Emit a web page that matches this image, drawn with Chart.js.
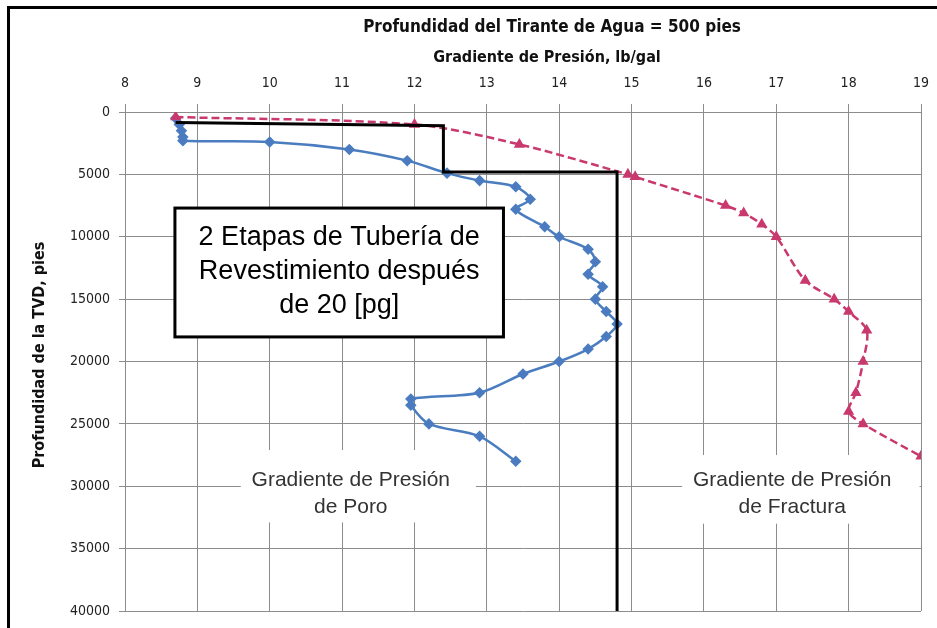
<!DOCTYPE html>
<html><head><meta charset="utf-8">
<script src="https://cdn.jsdelivr.net/npm/chart.js@4.4.1/dist/chart.umd.min.js"></script>
<style>
html,body{margin:0;padding:0;background:#fff;}
#wrap{position:relative;width:937px;height:628px;overflow:hidden;}
#frame{position:absolute;left:7px;top:6px;width:960px;height:660px;border-left:3px solid #000;border-top:3px solid #000;pointer-events:none;}
canvas{display:block;}
</style></head>
<body><div id="wrap"><canvas id="c" width="937" height="628"></canvas><div id="frame"></div></div>
<script>
// ---- data ----
const chartTitle = 'Profundidad del Tirante de Agua = 500 pies';
const xTitle = 'Gradiente de Presión, lb/gal';
const yTitle = 'Profundidad de la TVD, pies';
const xTickValues = [8, 9, 10, 11, 12, 13, 14, 15, 16, 17, 18, 19];
const yTickValues = [0, 5000, 10000, 15000, 20000, 25000, 30000, 35000, 40000];

const poreGradient = [8.7, 8.75, 8.78, 8.8, 8.8, 10.0, 11.1, 11.9, 12.45, 12.9, 13.4, 13.6, 13.4, 13.8, 14.0, 14.4, 14.5, 14.4, 14.6, 14.5, 14.65, 14.8, 14.65, 14.4, 14.0, 13.5, 12.9, 11.95, 11.95, 12.2, 12.9, 13.4];
const poreDepth    = [500, 1000, 1500, 2000, 2300, 2400, 3000, 3900, 4900, 5500, 6000, 7000, 7800, 9200, 10000, 11000, 12000, 13000, 14000, 15000, 16000, 17000, 18000, 19000, 20000, 21000, 22500, 23000, 23500, 25000, 26000, 28000];

const fracGradient = [8.7, 12.0, 13.45, 14.95, 15.05, 16.3, 16.55, 16.8, 17.0, 17.4, 17.8, 18.0, 18.25, 18.2, 18.1, 18.0, 18.2, 19.0];
const fracDepth    = [400, 1000, 2600, 5000, 5200, 7500, 8100, 9000, 10000, 13500, 15000, 16000, 17500, 20000, 22500, 24000, 25000, 27600];

const casingGradient = [8.7, 12.4, 12.4, 14.8, 14.8];
const casingDepth    = [850, 1100, 4800, 4800, 40000];

const boxLines = ['2 Etapas de Tubería de', 'Revestimiento después', 'de 20 [pg]'];
const poreLabel = ['Gradiente de Presión', 'de Poro'];
const fracLabel = ['Gradiente de Presión', 'de Fractura'];

// ---- helpers ----
const pts = (xs, ys) => xs.map((x, i) => ({x, y: ys[i]}));
const CAL = "'DejaVu Sans Condensed', 'Liberation Sans Narrow', sans-serif";
const ARIAL = "'Liberation Sans', Arial, sans-serif";

const annot = {
  id: 'annot',
  beforeDatasetsDraw(chart) {
    const {ctx, scales: {x, y}} = chart;
    ctx.save();
    ctx.fillStyle = '#fff';
    const wb = (x0, x1, y0, y1) => {
      const px0 = x.getPixelForValue(x0), px1 = x.getPixelForValue(x1);
      const py0 = y.getPixelForValue(y0), py1 = y.getPixelForValue(y1);
      ctx.fillRect(px0, py0, px1 - px0, py1 - py0);
    };
    wb(9.6, 12.85, 27100, 32900);
    wb(15.7, 18.98, 27500, 33000);
    ctx.fillStyle = '#333';
    ctx.font = '21px ' + ARIAL;
    ctx.textAlign = 'center';
    ctx.textBaseline = 'middle';
    ctx.fillText(poreLabel[0], x.getPixelForValue(11.12), y.getPixelForValue(29500));
    ctx.fillText(poreLabel[1], x.getPixelForValue(11.12), y.getPixelForValue(31650));
    ctx.fillText(fracLabel[0], x.getPixelForValue(17.22), y.getPixelForValue(29550));
    ctx.fillText(fracLabel[1], x.getPixelForValue(17.22), y.getPixelForValue(31700));
    ctx.restore();
  },
  afterDatasetsDraw(chart) {
    const {ctx, scales: {x, y}} = chart;
    ctx.save();
    const bx0 = x.getPixelForValue(8.69), bx1 = x.getPixelForValue(13.23);
    const by0 = y.getPixelForValue(7700), by1 = y.getPixelForValue(18030);
    ctx.fillStyle = '#fff';
    ctx.fillRect(bx0, by0, bx1 - bx0, by1 - by0);
    ctx.strokeStyle = '#000';
    ctx.lineWidth = 3;
    ctx.strokeRect(bx0, by0, bx1 - bx0, by1 - by0);
    ctx.fillStyle = '#000';
    ctx.font = '27px ' + ARIAL;
    ctx.textAlign = 'center';
    ctx.textBaseline = 'middle';
    const cx = (bx0 + bx1) / 2;
    boxLines.forEach((t, i) => ctx.fillText(t, cx, by0 + 29 + i * 34));
    ctx.restore();
  },
  afterDraw(chart) {
    const {ctx} = chart;
    ctx.save();
    ctx.fillStyle = '#111';
    ctx.textAlign = 'center';
    ctx.textBaseline = 'middle';
    ctx.font = 'bold 17px ' + CAL;
    ctx.fillText(chartTitle, 552, 28);
    ctx.font = 'bold 16px ' + CAL;
    ctx.fillText(xTitle, 547, 58);
    ctx.translate(40, 355);
    ctx.rotate(-Math.PI / 2);
    ctx.font = 'bold 16px ' + CAL;
    ctx.fillText(yTitle, 0, 0);
    ctx.restore();
  }
};

const gridColor = '#8c8c8c';
new Chart(document.getElementById('c'), {
  type: 'scatter',
  data: {
    datasets: [
      {
        label: 'Casing',
        data: pts(casingGradient, casingDepth),
        showLine: true, borderColor: '#000', borderWidth: 3, pointRadius: 0, tension: 0
      },
      {
        label: 'Fractura',
        data: pts(fracGradient, fracDepth),
        showLine: true, borderColor: '#C9396E', backgroundColor: '#C9396E', borderWidth: 2.5,
        borderDash: [8, 4], pointStyle: 'triangle', pointRadius: 4, tension: 0.3
      },
      {
        label: 'Poro',
        data: pts(poreGradient, poreDepth),
        showLine: true, borderColor: '#4A7CC0', backgroundColor: '#4F77C2', borderWidth: 2.5,
        pointStyle: 'rectRot', pointRadius: 4, tension: 0.3
      }
    ]
  },
  options: {
    responsive: false,
    animation: false,
    events: [],
    layout: {padding: {left: 0, top: 0, right: 16, bottom: 17}},
    plugins: {legend: {display: false}, tooltip: {enabled: false}, title: {display: false}},
    scales: {
      x: {
        type: 'linear', position: 'top', min: 8, max: 19,
        afterBuildTicks: s => { s.ticks = xTickValues.map(v => ({value: v})); },
        ticks: {padding: 12, color: '#222', font: {family: CAL, size: 14}, callback: v => String(v)},
        grid: {color: gridColor, tickLength: 8, lineWidth: 1},
        border: {color: gridColor},
        afterFit: s => { s.height = 112; s.paddingLeft = 0; s.paddingRight = 0; }
      },
      y: {
        type: 'linear', reverse: true, min: 0, max: 40000,
        afterBuildTicks: s => { s.ticks = yTickValues.map(v => ({value: v})); },
        ticks: {padding: 9, color: '#222', font: {family: CAL, size: 14}, callback: v => String(v)},
        grid: {color: gridColor, tickLength: 6, lineWidth: 1},
        border: {color: gridColor},
        afterFit: s => { s.width = 125; s.paddingTop = 0; s.paddingBottom = 0; }
      }
    }
  },
  plugins: [annot]
});
</script>
</body></html>
